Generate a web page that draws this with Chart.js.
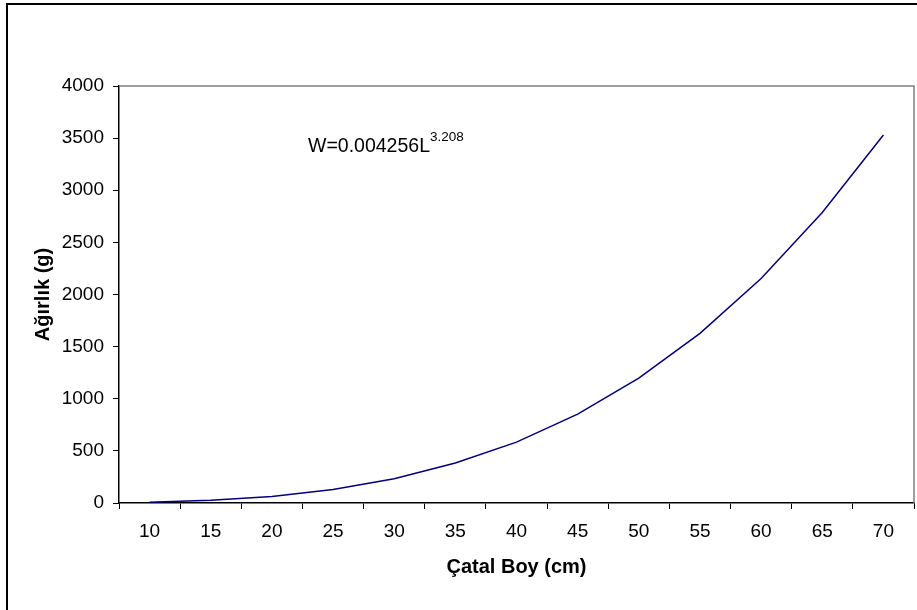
<!DOCTYPE html>
<html>
<head>
<meta charset="utf-8">
<script src="https://cdn.jsdelivr.net/npm/chart.js@4.4.1/dist/chart.umd.min.js"></script>
<style>
    html, body { margin: 0; padding: 0; background: #ffffff; }
    #wrap { width: 917px; height: 610px; }
</style>
</head>
<body>
<div id="wrap"><canvas id="lwChart" width="917" height="610"></canvas></div>
<script>
// Fork length classes (cm) and weight (g)
const boyLabels = ["10", "15", "20", "25", "30", "35", "40", "45", "50", "55", "60", "65", "70"];
const agirlik = [7, 26, 63, 130, 233, 383, 584, 853, 1198, 1627, 2153, 2786, 3530];
const yTicks = [0, 500, 1000, 1500, 2000, 2500, 3000, 3500, 4000];

const fontFamily = "'Liberation Sans', Arial, sans-serif";

// frame, plot border and the equation text
const decorPlugin = {
    id: "decor",
    afterDraw(chart) {
        const ctx = chart.ctx;
        const area = chart.chartArea;
        ctx.save();

        // outer frame (top and left only, like the original)
        ctx.fillStyle = "#000000";
        ctx.fillRect(6, 3, 911, 2);
        ctx.fillRect(6, 3, 2, 607);

        // plot area top and right edge
        ctx.strokeStyle = "#808080";
        ctx.lineWidth = 1.5;
        ctx.beginPath();
        ctx.moveTo(area.left, area.top);
        ctx.lineTo(area.right, area.top);
        ctx.lineTo(area.right, area.bottom);
        ctx.stroke();

        // equation
        ctx.fillStyle = "#000000";
        ctx.textBaseline = "alphabetic";
        ctx.textAlign = "left";
        ctx.font = "19.5px " + fontFamily;
        const ex = area.left + 189;
        const ey = area.top + 66;
        ctx.fillText("W=0.004256L", ex, ey);
        const w = ctx.measureText("W=0.004256L").width;
        ctx.font = "13.5px " + fontFamily;
        ctx.fillText("3.208", ex + w, ey - 11);

        ctx.restore();
    }
};

const ctx = document.getElementById("lwChart").getContext("2d");

new Chart(ctx, {
    type: "line",
    data: {
        labels: boyLabels,
        datasets: [{
            data: agirlik,
            borderColor: "#000080",
            borderWidth: 1.5,
            pointRadius: 0,
            tension: 0,
            fill: false
        }]
    },
    options: {
        responsive: false,
        animation: false,
        layout: {
            padding: { left: 0, right: 3, top: 86, bottom: 0 }
        },
        plugins: {
            legend: { display: false },
            tooltip: { enabled: false }
        },
        scales: {
            x: {
                type: "category",
                offset: true,
                grid: {
                    offset: true,
                    drawOnChartArea: false,
                    drawTicks: true,
                    tickLength: 6,
                    tickColor: "#000000",
                    tickWidth: 1
                },
                border: { display: true, color: "#000000", width: 1.5 },
                ticks: {
                    color: "#000000",
                    font: { family: fontFamily, size: 19 },
                    padding: 11,
                    maxRotation: 0,
                    autoSkip: false
                },
                title: {
                    display: true,
                    text: "Çatal Boy (cm)",
                    color: "#000000",
                    font: { family: fontFamily, size: 20, weight: "bold" },
                    padding: { top: 0, bottom: 31 }
                },
                afterFit(scale) {
                    scale.height = 107;
                }
            },
            y: {
                min: 0,
                max: 4000,
                afterBuildTicks(scale) {
                    scale.ticks = yTicks.map(v => ({ value: v }));
                },
                grid: {
                    drawOnChartArea: false,
                    drawTicks: true,
                    tickLength: 6,
                    tickColor: "#000000",
                    tickWidth: 1
                },
                border: { display: true, color: "#000000", width: 1.5 },
                ticks: {
                    color: "#000000",
                    font: { family: fontFamily, size: 19 },
                    padding: 9,
                    callback: value => String(value)
                },
                title: {
                    display: true,
                    text: "Ağırlık (g)",
                    color: "#000000",
                    font: { family: fontFamily, size: 20, weight: "bold" },
                    padding: { top: 31, bottom: 0 }
                },
                afterFit(scale) {
                    scale.width = 119;
                }
            }
        }
    },
    plugins: [decorPlugin]
});
</script>
</body>
</html>
